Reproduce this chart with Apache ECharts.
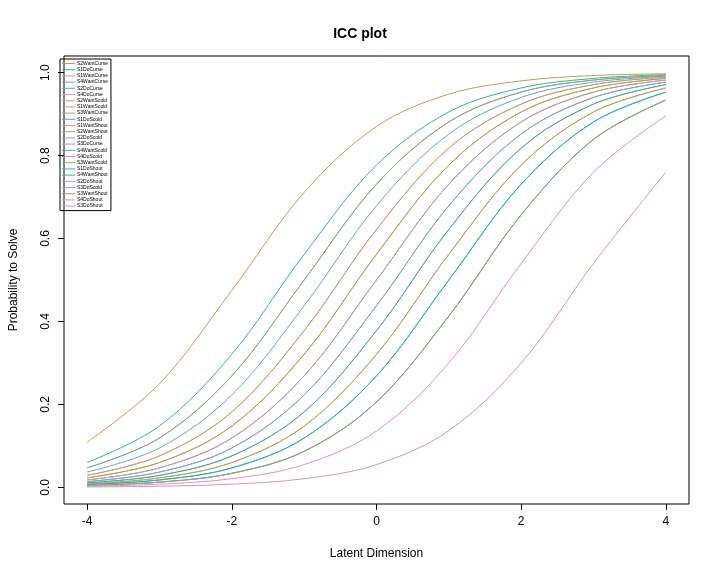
<!DOCTYPE html>
<html>
<head>
<meta charset="utf-8">
<script src="https://cdn.jsdelivr.net/npm/echarts@6/dist/echarts.min.js"></script>
<style>html,body{margin:0;padding:0;background:#fff}#chart{width:720px;height:576px}</style>
</head>
<body>
<div id="chart"></div>
<script>
// Latent dimension values at which the curves were read
const xs = [-4, -3, -2, -1, 0, 1, 2, 3, 4];

const itemNames = ['S2WantCurse', 'S1DoCurse', 'S1WantCurse', 'S4WantCurse', 'S2DoCurse', 'S4DoCurse',
    'S2WantScold', 'S1WantScold', 'S3WantCurse', 'S1DoScold', 'S1WantShout', 'S2WantShout',
    'S2DoScold', 'S3DoCurse', 'S4WantScold', 'S4DoScold', 'S3WantScold', 'S1DoShout',
    'S4WantShout', 'S2DoShout', 'S3DoScold', 'S3WantShout', 'S4DoShout', 'S3DoShout'];

const itemColors = ['#D39453', '#2EB5A0', '#E28AB0', '#6DB374', '#5AA8D6', '#E08CC0',
    '#C5A45A', '#E59090', '#9FAA4A', '#35B6B6', '#E8908A', '#A8A552',
    '#7AA2E0', '#A79CE0', '#3FAF90', '#E88AA8', '#A2B04C', '#2AB3C8',
    '#2AB39C', '#8D9DE2', '#B494E0', '#7BB15A', '#E88AB8', '#C990DC'];

// Probability to solve per item, read at xs
const p01 = [0.109, 0.250, 0.475, 0.711, 0.870, 0.948, 0.980, 0.993, 0.997];
const p02 = [0.060, 0.148, 0.321, 0.562, 0.777, 0.905, 0.963, 0.986, 0.995];
const p03 = [0.047, 0.119, 0.269, 0.500, 0.731, 0.881, 0.953, 0.982, 0.993];
const p04 = [0.047, 0.119, 0.269, 0.500, 0.731, 0.881, 0.953, 0.982, 0.993];
const p05 = [0.037, 0.095, 0.223, 0.438, 0.679, 0.852, 0.940, 0.977, 0.991];
const p06 = [0.029, 0.076, 0.182, 0.378, 0.622, 0.818, 0.924, 0.971, 0.989];
const p07 = [0.029, 0.076, 0.182, 0.378, 0.622, 0.818, 0.924, 0.971, 0.989];
const p08 = [0.023, 0.060, 0.148, 0.321, 0.562, 0.777, 0.905, 0.963, 0.986];
const p09 = [0.023, 0.060, 0.148, 0.321, 0.562, 0.777, 0.905, 0.963, 0.986];
const p10 = [0.018, 0.047, 0.119, 0.269, 0.500, 0.731, 0.881, 0.953, 0.982];
const p11 = [0.018, 0.047, 0.119, 0.269, 0.500, 0.731, 0.881, 0.953, 0.982];
const p12 = [0.014, 0.037, 0.095, 0.223, 0.438, 0.679, 0.852, 0.940, 0.977];
const p13 = [0.014, 0.037, 0.095, 0.223, 0.438, 0.679, 0.852, 0.940, 0.977];
const p14 = [0.011, 0.029, 0.076, 0.182, 0.378, 0.622, 0.818, 0.924, 0.971];
const p15 = [0.011, 0.029, 0.076, 0.182, 0.378, 0.622, 0.818, 0.924, 0.971];
const p16 = [0.0086, 0.023, 0.060, 0.148, 0.321, 0.562, 0.777, 0.905, 0.963];
const p17 = [0.0086, 0.023, 0.060, 0.148, 0.321, 0.562, 0.777, 0.905, 0.963];
const p18 = [0.0067, 0.018, 0.047, 0.119, 0.269, 0.500, 0.731, 0.881, 0.953];
const p19 = [0.0067, 0.018, 0.047, 0.119, 0.269, 0.500, 0.731, 0.881, 0.953];
const p20 = [0.0047, 0.0127, 0.034, 0.087, 0.206, 0.413, 0.657, 0.839, 0.934];
const p21 = [0.0047, 0.0127, 0.034, 0.087, 0.206, 0.413, 0.657, 0.839, 0.934];
const p22 = [0.0047, 0.0127, 0.034, 0.087, 0.206, 0.413, 0.657, 0.839, 0.934];
const p23 = [0.0029, 0.0078, 0.021, 0.055, 0.136, 0.300, 0.540, 0.760, 0.896];
const p24 = [0.0011, 0.0029, 0.0079, 0.021, 0.055, 0.137, 0.300, 0.540, 0.760];

const itemValues = [p01, p02, p03, p04, p05, p06, p07, p08, p09, p10, p11, p12,
    p13, p14, p15, p16, p17, p18, p19, p20, p21, p22, p23, p24];

const xTicks = [-4, -2, 0, 2, 4];
const yTicks = [0, 0.2, 0.4, 0.6, 0.8, 1];

const font = 'Liberation Sans, Arial, sans-serif';

const series = itemNames.map((name, i) => ({
    name: name,
    type: 'line',
    data: xs.map((x, j) => [x, itemValues[i][j]]),
    smooth: 0.35,
    symbol: 'none',
    lineStyle: { color: itemColors[i], width: 1 },
    itemStyle: { color: itemColors[i] }
}));

const option = {
    animation: false,
    title: {
        text: 'ICC plot', left: 'center', top: 22,
        textStyle: { fontFamily: font, fontSize: 14, fontWeight: 'bold', color: '#000' }
    },
    legend: {
        orient: 'vertical', left: 60, top: 59,
        data: itemNames,
        itemWidth: 13, itemHeight: 1, itemGap: 1.2,
        padding: [2, 3, 2, 2],
        borderColor: '#000', borderWidth: 1,
        icon: 'rect',
        textStyle: { fontFamily: font, fontSize: 5, color: '#000', padding: [0, 0, 0, -3] }
    },
    grid: {
        left: 58, right: 31, top: 56, bottom: 72,
        show: true, borderColor: '#000', borderWidth: 1
    },
    xAxis: {
        type: 'value', min: -4.32, max: 4.32,
        name: 'Latent Dimension', nameLocation: 'middle', nameGap: 44,
        nameTextStyle: { fontFamily: font, fontSize: 12, color: '#000' },
        axisLine: { show: false, onZero: false },
        splitLine: { show: false },
        axisTick: { show: true, length: 6, lineStyle: { color: '#000' }, customValues: xTicks },
        axisLabel: { fontFamily: font, fontSize: 12, color: '#000', margin: 12, customValues: xTicks }
    },
    yAxis: {
        type: 'value', min: -0.04, max: 1.04,
        name: 'Probability to Solve', nameLocation: 'middle', nameGap: 44,
        nameTextStyle: { fontFamily: font, fontSize: 12, color: '#000' },
        axisLine: { show: false, onZero: false },
        splitLine: { show: false },
        axisTick: { show: true, length: 6, lineStyle: { color: '#000' }, customValues: yTicks },
        axisLabel: {
            fontFamily: font, fontSize: 12, color: '#000', margin: 12, rotate: 90,
            customValues: yTicks, formatter: v => v.toFixed(1)
        }
    },
    series: series
};

const chart = echarts.init(document.getElementById('chart'));
chart.setOption(option);
</script>
</body>
</html>
